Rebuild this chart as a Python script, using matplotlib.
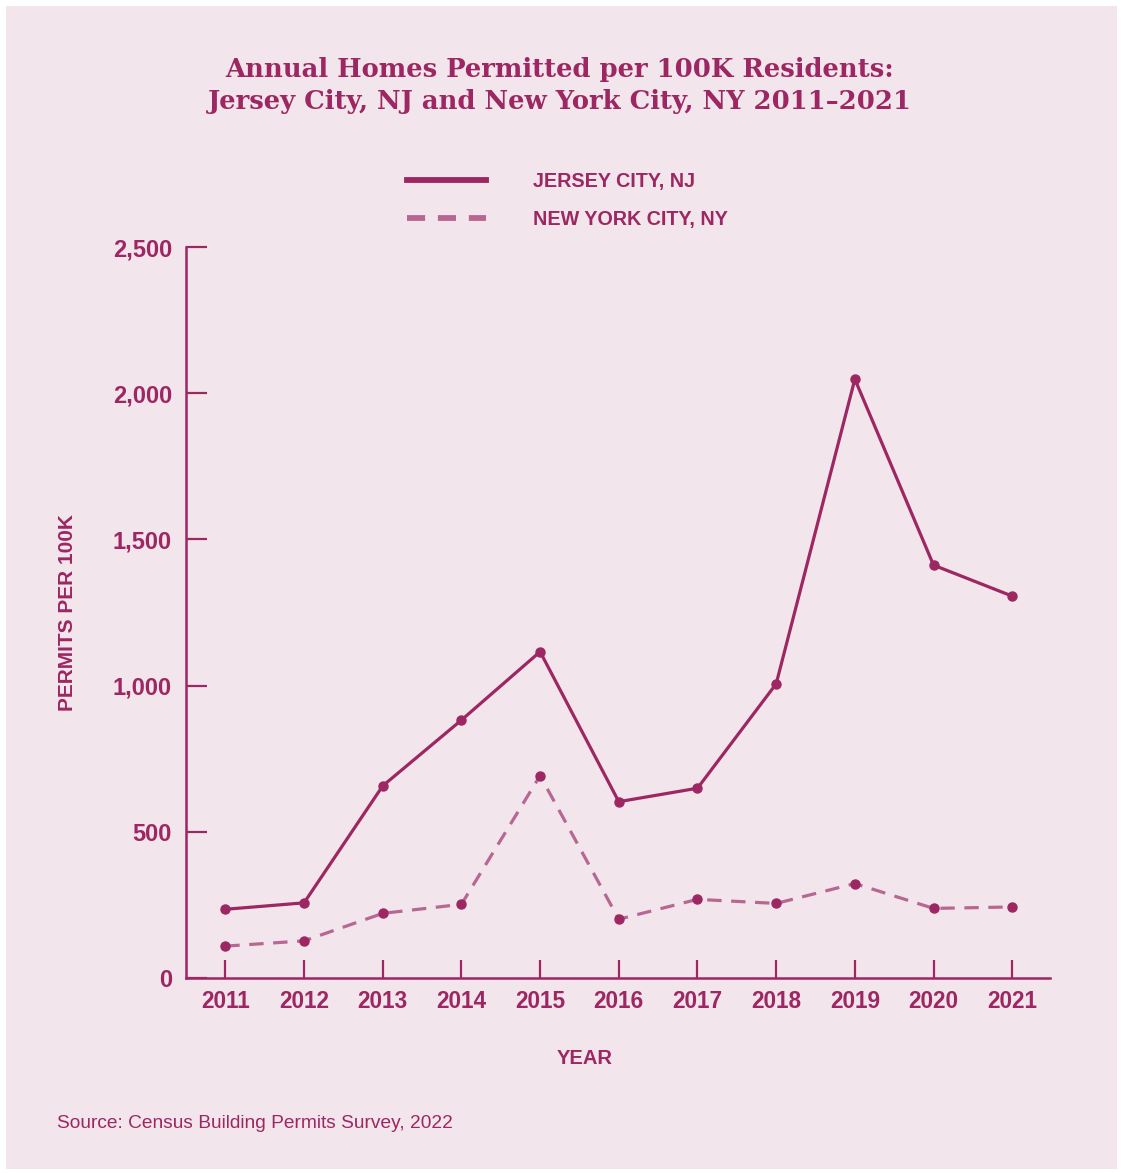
import matplotlib
matplotlib.use("Agg")
import matplotlib.pyplot as plt
from matplotlib.lines import Line2D
from matplotlib.patches import Rectangle
from matplotlib.ticker import FuncFormatter

years = [2011, 2012, 2013, 2014, 2015, 2016, 2017, 2018, 2019, 2020, 2021]
jersey_city = [235, 257, 657, 882, 1116, 603, 649, 1006, 2048, 1412, 1306]
new_york = [109, 127, 221, 252, 692, 201, 269, 255, 323, 238, 243]
series_names = ["JERSEY CITY, NJ", "NEW YORK CITY, NY"]
y_ticks = [0, 500, 1000, 1500, 2000, 2500]

dark = "#9c2762"
light = "#b76892"
bg = "#f3e5ec"

W, H = 1121, 1173
fig = plt.figure(figsize=(W / 100, H / 100), dpi=100)
fig.patch.set_facecolor("white")
# pink panel with a thin white margin
fig.add_artist(Rectangle((6 / W, 1 - 1169 / H), 1111 / W, 1163 / H,
                         transform=fig.transFigure, facecolor=bg, edgecolor="none", zorder=-10))

ax = fig.add_axes([186 / W, 1 - 978 / H, 864 / W, 731 / H])
ax.set_facecolor("none")

ax.plot(years, new_york, color=light, lw=2.3, dashes=(4.5, 3), zorder=2)
ax.plot(years, new_york, "o", color=dark, ms=6.5, zorder=3)
ax.plot(years, jersey_city, color=dark, lw=2.3, marker="o", ms=6.5, zorder=4)

ax.set_xlim(2010.5, 2021.48)
ax.set_ylim(0, 2500)
ax.set_xticks(years)
ax.set_yticks(y_ticks)
ax.yaxis.set_major_formatter(FuncFormatter(lambda v, p: f"{int(v):,}"))

for s in ["top", "right"]:
    ax.spines[s].set_visible(False)
for s in ["left", "bottom"]:
    ax.spines[s].set_color(dark)
    ax.spines[s].set_linewidth(1.8)

ax.tick_params(axis="both", direction="in", color=dark, labelcolor=dark, width=1.6)
ax.tick_params(axis="y", length=15, pad=10, labelsize=17)
ax.tick_params(axis="x", length=13, pad=9, labelsize=16.3)
for lab in ax.get_xticklabels() + ax.get_yticklabels():
    lab.set_fontfamily("Liberation Sans")
    lab.set_fontweight("bold")

ax.set_ylabel("PERMITS PER 100K", fontfamily="Liberation Sans", fontweight="bold",
              fontsize=15, color=dark)
ax.yaxis.set_label_coords(-109 / 864, 0.5)
ax.set_xlabel("YEAR", fontfamily="Liberation Sans", fontweight="bold",
              fontsize=14.5, color=dark)
ax.xaxis.set_label_coords(399 / 864, -71 / 731)

# title
title_kw = dict(ha="center", va="center", fontsize=18.6, fontweight="heavy",
                fontfamily="DejaVu Serif", color=dark)
fig.text(560 / W, 1 - 70 / H, "Annual Homes Permitted per 100K Residents:", **title_kw)
fig.text(560 / W, 1 - 101 / H, "Jersey City, NJ and New York City, NY 2011\u20132021", **title_kw)

# legend drawn by hand
fig.add_artist(Line2D([407 / W, 486 / W], [1 - 180 / H, 1 - 180 / H],
                      transform=fig.transFigure, color=dark, lw=4.2))
fig.add_artist(Line2D([407 / W, 486 / W], [1 - 218 / H, 1 - 218 / H],
                      transform=fig.transFigure, color=light, lw=4.2, dashes=(3.1, 2.2)))
fig.text(533 / W, 1 - 181 / H, series_names[0], ha="left", va="center", fontsize=14.2,
         fontweight="bold", fontfamily="Liberation Sans", color=dark)
fig.text(533 / W, 1 - 219 / H, series_names[1], ha="left", va="center", fontsize=14.2,
         fontweight="bold", fontfamily="Liberation Sans", color=dark)

fig.text(57 / W, 1 - 1123 / H, "Source: Census Building Permits Survey, 2022",
         ha="left", va="center", fontsize=13.8, fontfamily="Liberation Sans", color=dark)

fig.savefig("out.png", dpi=100, facecolor=fig.get_facecolor())
